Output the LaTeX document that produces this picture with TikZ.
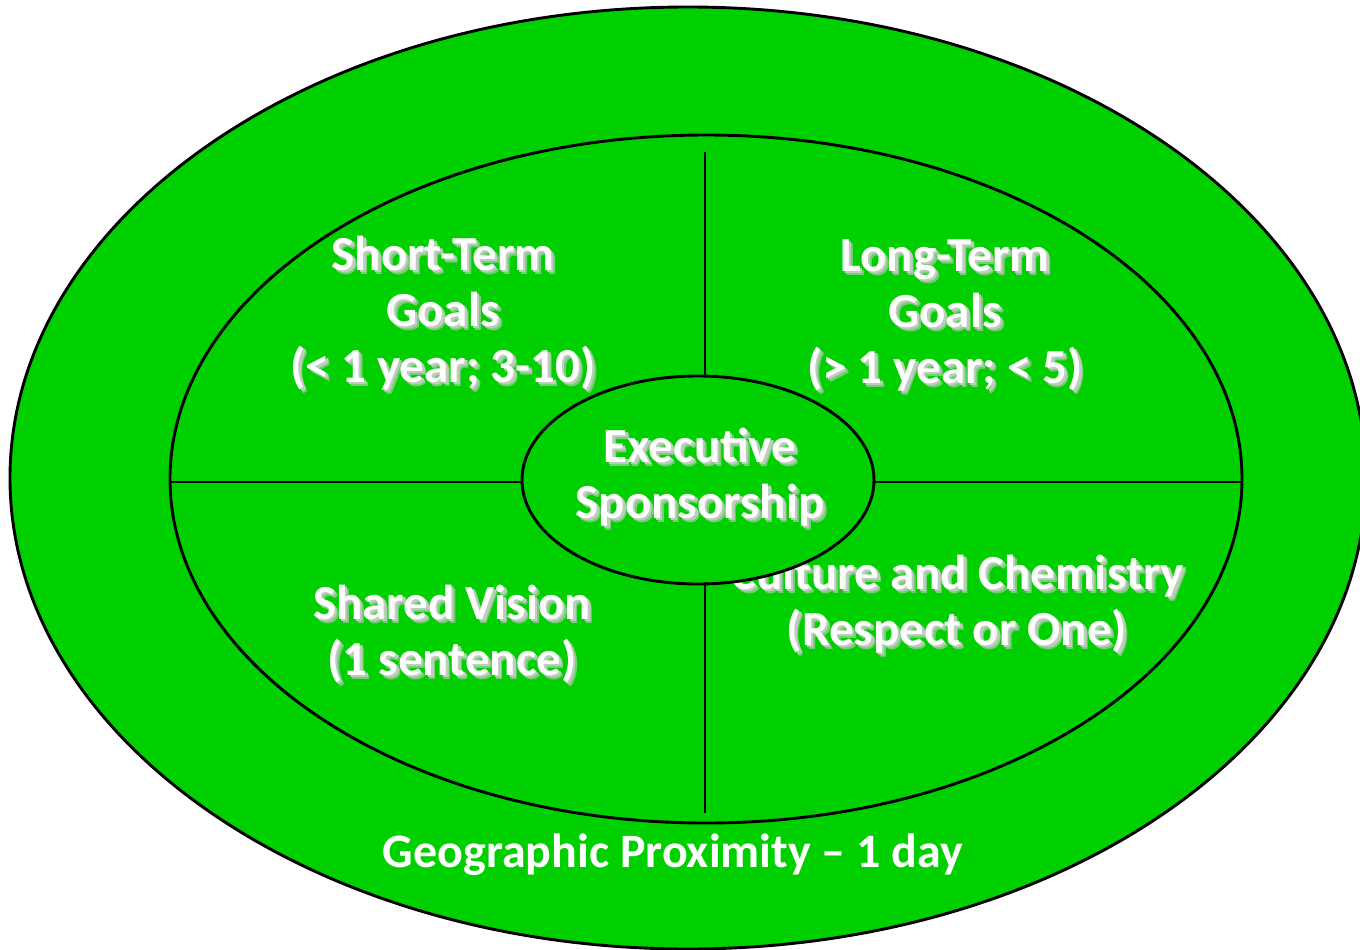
\documentclass[tikz,border=0pt]{standalone}
\usepackage{fontspec}
\setmainfont{Carlito}
\usetikzlibrary{shapes.geometric}
\definecolor{vgreen}{RGB}{0,208,0}
\definecolor{shnear}{RGB}{190,205,190}
\definecolor{shfar}{RGB}{120,205,120}
\tikzset{
  ring/.style={ellipse, draw=black, line width=2.9pt, fill=vgreen, inner sep=0pt},
  divider/.style={draw=black, line width=2.5pt},
  lbl/.style={text=white, font=\bfseries\fontsize{49}{56}\selectfont, align=center, inner sep=0pt},
  plainlbl/.style={text=white, font=\bfseries\fontsize{48}{56}\selectfont, inner sep=0pt},
}
\newcommand\shd[1]{\leavevmode\rlap{\hspace{4pt}\raisebox{-4pt}{\color{shfar}#1}}\rlap{\hspace{2.5pt}\raisebox{-2.5pt}{\color{shnear}#1}}#1}
\begin{document}
\begin{tikzpicture}[x=1pt,y=-1pt]
\useasboundingbox (0,0) rectangle (1360,950);
\fill[white] (0,0) rectangle (1360,950);
% rings
\node[ring, minimum width=1356pt, minimum height=942pt] (outer) at (688,478) {};
\node[ring, minimum width=1072pt, minimum height=688pt] (inner) at (706,479) {};
% dividers
\coordinate (vtop) at (705,152);
\coordinate (vbot) at (705,813);
\coordinate (vc1) at (705,377);
\coordinate (vc2) at (705,583);
\coordinate (hc1) at (522,482);
\coordinate (hc2) at (875,482);
\draw[divider] (vtop) -- (vc1);
\draw[divider] (vc2) -- (vbot);
\draw[divider] (inner.west |- hc1) -- (hc1);
\draw[divider] (hc2) -- (inner.east |- hc2);
% quadrant labels
\node[lbl] (st) at (443,315) {\shd{Short-Term}\\\shd{Goals}\\\shd{(< 1 year; 3-10)}};
\node[lbl] (lt) at (945,317) {\shd{Long-Term}\\\shd{Goals}\\\shd{(> 1 year; < 5)}};
\node[lbl] (sv) at (452,636) {\shd{Shared Vision}\\\shd{(1 sentence)}};
\node[lbl] (cc) at (957,606) {\shd{Culture and Chemistry}\\\shd{(Respect or One)}};
% centre
\node[ring, minimum width=352pt, minimum height=208pt] (centre) at (698,480) {};
\node[lbl] (es) at (700,479) {\shd{Executive}\\\shd{Sponsorship}};
% outer label
\node[plainlbl] (geo) at (673,855) {Geographic Proximity – 1 day};
\end{tikzpicture}
\end{document}
